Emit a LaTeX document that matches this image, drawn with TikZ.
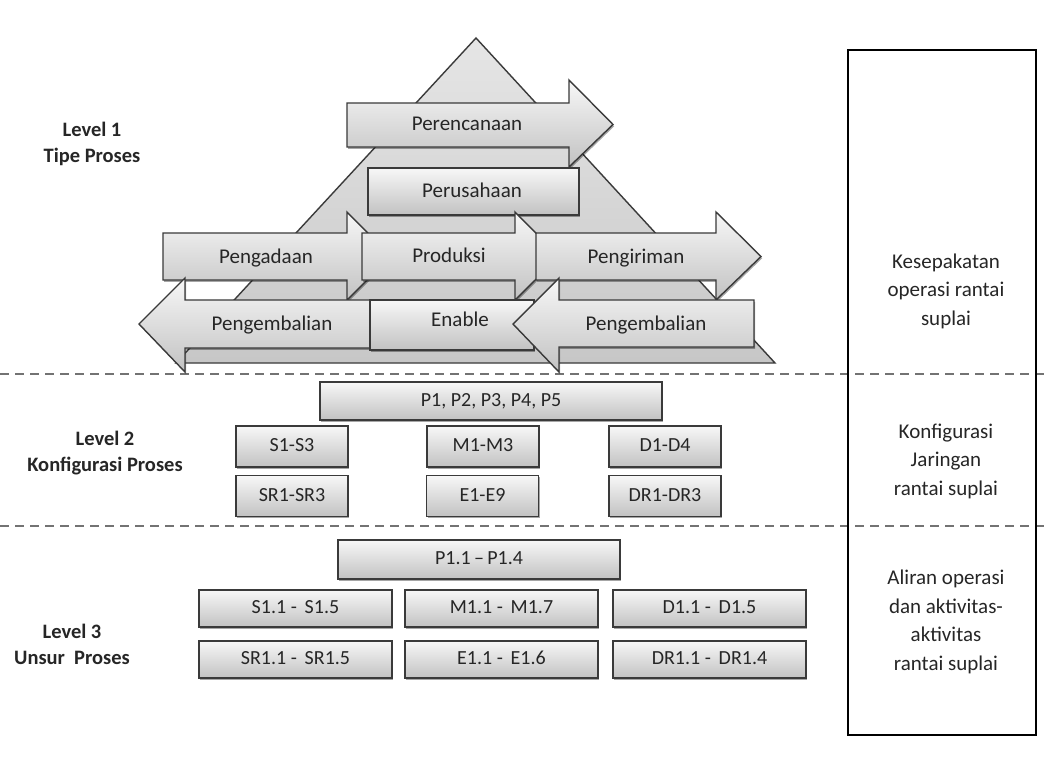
\documentclass[tikz,border=0pt]{standalone}
\usepackage{fontspec}
\setmainfont{Carlito}
\usetikzlibrary{shadows}
\definecolor{edge}{HTML}{3A3A3A}
\definecolor{txt}{HTML}{262626}
\tikzset{
  shape3d/.style={draw=edge, line width=1.4pt, line join=miter,
    top color=black!3, bottom color=black!24,
    drop shadow={shadow xshift=1.2pt, shadow yshift=-1.8pt, opacity=0.35, fill=black}},
  tri/.style={draw=edge, line width=1.4pt, line join=miter, top color=black!10, bottom color=black!22},
  lbl/.style={font=\fontsize{21}{24}\selectfont, text=txt, inner sep=0pt, text height=14pt, text depth=4pt},
  lvlbox/.style={shape3d, rectangle, font=\fontsize{20}{23}\selectfont, text=txt, inner sep=0pt, text height=13.5pt, text depth=3.5pt},
  sidelbl/.style={font=\bfseries\fontsize{20.5}{26}\selectfont, text=txt, align=center},
  righttxt/.style={font=\fontsize{21}{28.5}\selectfont, text=txt, align=center},
  sepline/.style={draw=black!55, line width=1.6pt, dash pattern=on 9pt off 6pt},
}
\begin{document}
\begin{tikzpicture}[x=1pt,y=-1pt]
\useasboundingbox (0,0) rectangle (1045,761);
\fill[white] (0,0) rectangle (1045,761);

% separators
\coordinate (s1a) at (0,374); \coordinate (s1b) at (1045,374);
\coordinate (s2a) at (0,526); \coordinate (s2b) at (1045,526);
\draw[sepline] (s1a) -- (s1b);
\draw[sepline] (s2a) -- (s2b);

% right column box
\draw[black, line width=2.2pt] (848,50) rectangle (1036,735);
\node[righttxt] (r1) at (946,291) {Kesepakatan\\operasi rantai\\suplai};
\node[righttxt] (r2) at (946,461) {Konfigurasi\\Jaringan\\rantai suplai};
\node[righttxt] (r3) at (946,622) {Aliran operasi\\dan aktivitas-\\aktivitas\\rantai suplai};

% left labels
\node[sidelbl] (l1) at (92,144) {Level 1\\Tipe Proses};
\node[sidelbl] (l2) at (105,453) {Level 2\\Konfigurasi Proses};
\node[sidelbl] (l3) at (72,644) {Level 3\\Unsur\ \ Proses};

% pyramid
\path[tri] (476,38) -- (775,363) -- (176,363) -- cycle;

% Perencanaan
\path[shape3d] (347,103) -- (569,103) -- (569,80) -- (613,124.5) -- (569,167) -- (569,147) -- (347,147) -- cycle;
\node[lbl] (perenc) at (467,125) {Perencanaan};

% Perusahaan
\path[shape3d] (368,168) rectangle (579,215);
\node[lbl] (perus) at (472,192) {Perusahaan};

% Pengadaan
\path[shape3d] (163,233) -- (347,233) -- (347,212) -- (391,256.5) -- (347,300) -- (347,280) -- (163,280) -- cycle;
\node[lbl] (pengad) at (266,258) {Pengadaan};

% Produksi
\path[shape3d] (362,233) -- (515,233) -- (515,212) -- (559,256.5) -- (515,300) -- (515,280) -- (362,280) -- cycle;
\node[lbl] (produ) at (449,257) {Produksi};

% Pengiriman
\path[shape3d] (536,233) -- (716,233) -- (716,212) -- (761,256.5) -- (716,300) -- (716,280) -- (536,280) -- cycle;
\node[lbl] (pengir) at (636,258) {Pengiriman};

% left Pengembalian
\path[shape3d] (400,300) -- (185,300) -- (185,278) -- (139,324) -- (185,372) -- (185,348) -- (400,348) -- cycle;
\node[lbl] (pengemL) at (272,325) {Pengembalian};

% Enable
\path[shape3d] (370,300) rectangle (534,350);
\node[lbl] (enable) at (460,321) {Enable};

% right Pengembalian
\path[shape3d] (754,300) -- (559,300) -- (559,278) -- (513,324) -- (559,372) -- (559,347) -- (754,347) -- cycle;
\node[lbl] (pengemR) at (646,325) {Pengembalian};

% Level 2 boxes
\node[lvlbox, minimum width=342pt, minimum height=38pt] (p15) at (491,401) {P1, P2, P3, P4, P5};
\node[lvlbox, minimum width=112pt, minimum height=41pt] (s13) at (292,446.5) {S1-S3};
\node[lvlbox, minimum width=112pt, minimum height=41pt] (m13) at (483,446.5) {M1-M3};
\node[lvlbox, minimum width=112pt, minimum height=41pt] (d14) at (665,446.5) {D1-D4};
\node[lvlbox, minimum width=112pt, minimum height=41pt] (sr13) at (292,496) {SR1-SR3};
\node[lvlbox, minimum width=112pt, minimum height=41pt] (e19) at (482.5,496) {E1-E9};
\node[lvlbox, minimum width=112pt, minimum height=41pt] (dr13) at (665,496) {DR1-DR3};

% Level 3 boxes
\node[lvlbox, minimum width=282pt, minimum height=39pt] (p114) at (479,559.5) {P1.1\,–\,P1.4};
\node[lvlbox, minimum width=193pt, minimum height=37pt] (s115) at (295.5,608.5) {S1.1 - \,S1.5};
\node[lvlbox, minimum width=193pt, minimum height=37pt] (m117) at (501.5,608.5) {M1.1 - \,M1.7};
\node[lvlbox, minimum width=193pt, minimum height=37pt] (d115) at (709.5,608.5) {D1.1 - \,D1.5};
\node[lvlbox, minimum width=193pt, minimum height=37pt] (sr115) at (295.5,659.5) {SR1.1 - \,SR1.5};
\node[lvlbox, minimum width=193pt, minimum height=37pt] (e116) at (501.5,659.5) {E1.1 - \,E1.6};
\node[lvlbox, minimum width=193pt, minimum height=37pt] (dr114) at (709.5,659.5) {DR1.1 - \,DR1.4};
\end{tikzpicture}
\end{document}
